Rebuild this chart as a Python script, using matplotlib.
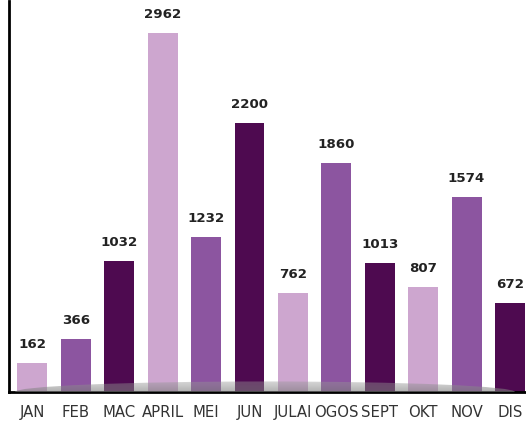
import matplotlib.pyplot as plt
import numpy as np
from matplotlib.patches import Ellipse

# Data
months = ['JAN', 'FEB', 'MAC', 'APRIL', 'MEI', 'JUN',
          'JULAI', 'OGOS', 'SEPT', 'OKT', 'NOV', 'DIS']
values = [162, 366, 1032, 2962, 1232, 2200, 762, 1860, 1013, 807, 1574, 672]
palette = ['#CDA6CF', '#8C55A0', '#4E0A50']

fig = plt.figure(figsize=(5.26, 4.27), dpi=100)
ax = fig.add_axes([9 / 526, 1 - 393 / 427, 1 - 9 / 526, 391 / 427])

x = np.arange(len(months))
colors = [palette[i % 3] for i in range(len(months))]
ax.bar(x, values, width=0.69, color=colors, bottom=0, zorder=2)
# bars extend a bit below zero, down to the axis line
ax.bar(x, [80] * len(months), width=0.69, color=colors, bottom=-80, zorder=2)

for xi, v in zip(x, values):
    ax.text(xi, v + 110, str(v), ha='center', va='bottom',
            fontsize=9.6, fontweight='bold', color='#222222', family='DejaVu Sans')

# grey "floor" shadow: gradient clipped to a flat ellipse
shadow = Ellipse((0.495, 0.0), 0.967, 0.054, transform=ax.transAxes,
                 facecolor='none', edgecolor='none')
ax.add_patch(shadow)
grad = np.zeros((32, 2, 4))
t = np.linspace(0, 1, 32)[:, None]  # 0 at top row
grad[..., :3] = 0.6 - 0.12 * t[..., None]
grad[..., 3] = 0.4 + 0.2 * t
img = ax.imshow(grad, extent=[0, 1, 0, 0.028], transform=ax.transAxes,
                aspect='auto', interpolation='bilinear', zorder=3)
img.set_clip_path(shadow)

ax.spines['top'].set_visible(False)
ax.spines['right'].set_visible(False)
ax.spines['left'].set_linewidth(2)
ax.spines['bottom'].set_linewidth(2)
ax.set_yticks([])
ax.set_xticks(x)
ax.set_xticklabels(months, fontsize=10.7, color='#333333', family='DejaVu Sans')
ax.tick_params(axis='x', length=0, pad=9)
ax.set_xlim(-0.54, 11.37)
ax.set_ylim(-80, 3234)

fig.savefig('out.png', dpi=100)
